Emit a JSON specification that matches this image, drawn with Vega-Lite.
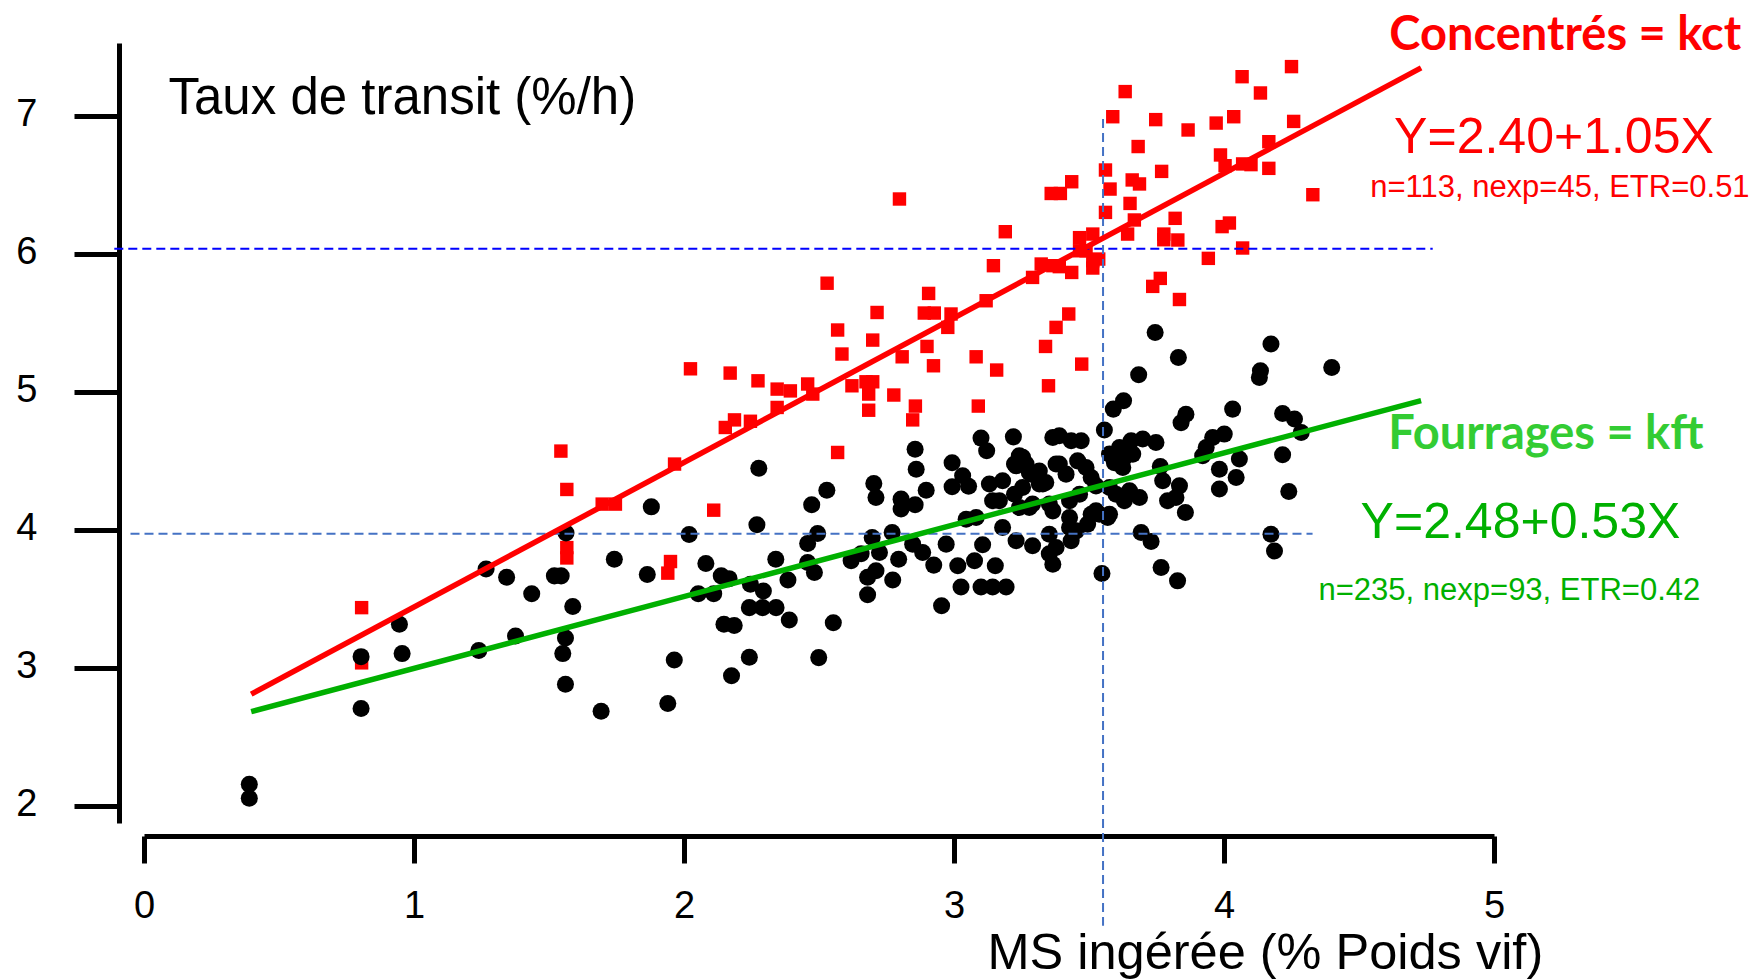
{
  "$schema": "https://vega.github.io/schema/vega-lite/v6.json",
  "width": 1350,
  "height": 780,
  "autosize": {"type": "none"},
  "padding": {"left": 144, "top": 43, "right": 264, "bottom": 157},
  "background": "white",
  "config": {
    "view": {"stroke": null},
    "axis": {
      "grid": false,
      "domainColor": "black",
      "domainWidth": 5,
      "tickColor": "black",
      "tickWidth": 5,
      "labelColor": "black",
      "labelFont": "Liberation Sans",
      "labelFontSize": 38,
      "labelFlush": false,
      "labelOverlap": false,
      "titleColor": "black",
      "titleFont": "Liberation Sans",
      "titleFontWeight": "normal"
    }
  },
  "datasets": {
    "kct": [
      {"ms": 0.806, "taux": 3.44}, {"ms": 0.806, "taux": 3.04}, {"ms": 1.544, "taux": 4.574}, {"ms": 1.566, "taux": 4.296},
      {"ms": 1.566, "taux": 3.875}, {"ms": 1.566, "taux": 3.8}, {"ms": 1.697, "taux": 4.19}, {"ms": 1.746, "taux": 4.19},
      {"ms": 1.95, "taux": 3.774}, {"ms": 1.94, "taux": 3.69}, {"ms": 2.11, "taux": 4.146}, {"ms": 1.965, "taux": 4.48},
      {"ms": 2.024, "taux": 5.17}, {"ms": 2.171, "taux": 5.139}, {"ms": 2.274, "taux": 5.083}, {"ms": 2.153, "taux": 4.745},
      {"ms": 2.187, "taux": 4.8}, {"ms": 2.246, "taux": 4.79}, {"ms": 2.345, "taux": 5.023}, {"ms": 2.394, "taux": 5.01},
      {"ms": 2.345, "taux": 4.89}, {"ms": 2.458, "taux": 5.06}, {"ms": 2.477, "taux": 4.987}, {"ms": 2.53, "taux": 5.79},
      {"ms": 2.569, "taux": 5.451}, {"ms": 2.585, "taux": 5.277}, {"ms": 2.569, "taux": 4.564}, {"ms": 2.622, "taux": 5.047},
      {"ms": 2.674, "taux": 5.076}, {"ms": 2.699, "taux": 5.076}, {"ms": 2.684, "taux": 4.987}, {"ms": 2.684, "taux": 4.87},
      {"ms": 2.699, "taux": 5.378}, {"ms": 2.715, "taux": 5.578}, {"ms": 2.777, "taux": 4.98}, {"ms": 2.798, "taux": 6.4},
      {"ms": 2.808, "taux": 5.257}, {"ms": 2.847, "taux": 4.8}, {"ms": 2.857, "taux": 4.9}, {"ms": 2.9, "taux": 5.332},
      {"ms": 2.906, "taux": 5.716}, {"ms": 2.89, "taux": 5.574}, {"ms": 2.927, "taux": 5.574}, {"ms": 2.924, "taux": 5.192},
      {"ms": 2.977, "taux": 5.47}, {"ms": 2.989, "taux": 5.567}, {"ms": 3.082, "taux": 5.257}, {"ms": 3.09, "taux": 4.9},
      {"ms": 3.119, "taux": 5.663}, {"ms": 3.158, "taux": 5.161}, {"ms": 3.146, "taux": 5.917}, {"ms": 3.19, "taux": 6.163},
      {"ms": 3.291, "taux": 5.832}, {"ms": 3.323, "taux": 5.929}, {"ms": 3.366, "taux": 5.917}, {"ms": 3.339, "taux": 5.332},
      {"ms": 3.35, "taux": 5.047}, {"ms": 3.36, "taux": 6.44}, {"ms": 3.378, "taux": 5.47}, {"ms": 3.394, "taux": 6.44},
      {"ms": 3.436, "taux": 6.525}, {"ms": 3.39, "taux": 5.91}, {"ms": 3.436, "taux": 5.868}, {"ms": 3.465, "taux": 6.12},
      {"ms": 3.514, "taux": 6.146}, {"ms": 3.465, "taux": 6.025}, {"ms": 3.489, "taux": 6.025}, {"ms": 3.514, "taux": 5.953},
      {"ms": 3.514, "taux": 5.9}, {"ms": 3.536, "taux": 5.965}, {"ms": 3.425, "taux": 5.567}, {"ms": 3.473, "taux": 5.204},
      {"ms": 3.588, "taux": 6.996}, {"ms": 3.634, "taux": 7.178}, {"ms": 3.561, "taux": 6.61}, {"ms": 3.578, "taux": 6.472},
      {"ms": 3.561, "taux": 6.303}, {"ms": 3.643, "taux": 6.146}, {"ms": 3.652, "taux": 6.368}, {"ms": 3.66, "taux": 6.538},
      {"ms": 3.687, "taux": 6.509}, {"ms": 3.668, "taux": 6.248}, {"ms": 3.682, "taux": 6.78}, {"ms": 3.747, "taux": 6.975},
      {"ms": 3.769, "taux": 6.6}, {"ms": 3.819, "taux": 6.26}, {"ms": 3.777, "taux": 6.146}, {"ms": 3.777, "taux": 6.105},
      {"ms": 3.829, "taux": 6.103}, {"ms": 3.867, "taux": 6.9}, {"ms": 3.942, "taux": 5.97}, {"ms": 3.971, "taux": 6.95},
      {"ms": 4.036, "taux": 6.996}, {"ms": 3.987, "taux": 6.719}, {"ms": 4.004, "taux": 6.641}, {"ms": 3.993, "taux": 6.2},
      {"ms": 4.02, "taux": 6.226}, {"ms": 4.067, "taux": 7.286}, {"ms": 4.135, "taux": 7.168}, {"ms": 4.069, "taux": 6.654},
      {"ms": 4.1, "taux": 6.649}, {"ms": 4.166, "taux": 6.815}, {"ms": 4.166, "taux": 6.622}, {"ms": 4.069, "taux": 6.045},
      {"ms": 4.25, "taux": 7.359}, {"ms": 4.258, "taux": 6.962}, {"ms": 4.329, "taux": 6.431}, {"ms": 3.736, "taux": 5.767},
      {"ms": 3.764, "taux": 5.825}, {"ms": 3.835, "taux": 5.672}
    ],
    "kft": [
      {"ms": 0.39, "taux": 2.16}, {"ms": 0.39, "taux": 2.06}, {"ms": 0.804, "taux": 3.085}, {"ms": 0.804, "taux": 2.71},
      {"ms": 0.946, "taux": 3.32}, {"ms": 0.956, "taux": 3.107}, {"ms": 1.24, "taux": 3.13}, {"ms": 1.267, "taux": 3.72},
      {"ms": 1.343, "taux": 3.66}, {"ms": 1.376, "taux": 3.235}, {"ms": 1.436, "taux": 3.54}, {"ms": 1.52, "taux": 3.67},
      {"ms": 1.545, "taux": 3.67}, {"ms": 1.563, "taux": 3.98}, {"ms": 1.588, "taux": 3.448}, {"ms": 1.561, "taux": 3.22},
      {"ms": 1.551, "taux": 3.107}, {"ms": 1.561, "taux": 2.885}, {"ms": 1.693, "taux": 2.69}, {"ms": 1.742, "taux": 3.79},
      {"ms": 1.879, "taux": 4.17}, {"ms": 1.864, "taux": 3.68}, {"ms": 2.019, "taux": 3.97}, {"ms": 1.964, "taux": 3.06},
      {"ms": 1.94, "taux": 2.745}, {"ms": 2.081, "taux": 3.76}, {"ms": 2.053, "taux": 3.54}, {"ms": 2.11, "taux": 3.54},
      {"ms": 2.138, "taux": 3.67}, {"ms": 2.167, "taux": 3.65}, {"ms": 2.148, "taux": 3.32}, {"ms": 2.186, "taux": 3.31},
      {"ms": 2.176, "taux": 2.946}, {"ms": 2.242, "taux": 3.08}, {"ms": 2.246, "taux": 3.61}, {"ms": 2.294, "taux": 3.56},
      {"ms": 2.242, "taux": 3.44}, {"ms": 2.291, "taux": 3.44}, {"ms": 2.341, "taux": 3.44}, {"ms": 2.39, "taux": 3.35},
      {"ms": 2.27, "taux": 4.04}, {"ms": 2.34, "taux": 3.79}, {"ms": 2.385, "taux": 3.64}, {"ms": 2.277, "taux": 4.45},
      {"ms": 2.473, "taux": 4.185}, {"ms": 2.529, "taux": 4.29}, {"ms": 2.495, "taux": 3.977}, {"ms": 2.458, "taux": 3.905},
      {"ms": 2.458, "taux": 3.767}, {"ms": 2.483, "taux": 3.694}, {"ms": 2.553, "taux": 3.33}, {"ms": 2.499, "taux": 3.078},
      {"ms": 2.703, "taux": 4.339}, {"ms": 2.711, "taux": 4.238}, {"ms": 2.856, "taux": 4.588}, {"ms": 2.86, "taux": 4.443},
      {"ms": 2.897, "taux": 4.29}, {"ms": 2.804, "taux": 4.226}, {"ms": 2.804, "taux": 4.154}, {"ms": 2.856, "taux": 4.185},
      {"ms": 2.697, "taux": 3.948}, {"ms": 2.771, "taux": 3.984}, {"ms": 2.656, "taux": 3.83}, {"ms": 2.724, "taux": 3.84},
      {"ms": 2.619, "taux": 3.78}, {"ms": 2.711, "taux": 3.707}, {"ms": 2.68, "taux": 3.66}, {"ms": 2.68, "taux": 3.533},
      {"ms": 2.773, "taux": 3.64}, {"ms": 2.795, "taux": 3.79}, {"ms": 2.847, "taux": 3.9}, {"ms": 2.884, "taux": 3.84},
      {"ms": 2.925, "taux": 3.748}, {"ms": 2.954, "taux": 3.453}, {"ms": 2.971, "taux": 3.9}, {"ms": 3.014, "taux": 3.743},
      {"ms": 2.993, "taux": 4.49}, {"ms": 2.993, "taux": 4.315}, {"ms": 3.054, "taux": 4.32}, {"ms": 3.032, "taux": 4.395},
      {"ms": 3.1, "taux": 4.668}, {"ms": 3.121, "taux": 4.576}, {"ms": 3.22, "taux": 4.677}, {"ms": 3.045, "taux": 4.08},
      {"ms": 3.082, "taux": 4.093}, {"ms": 3.106, "taux": 3.895}, {"ms": 3.076, "taux": 3.78}, {"ms": 3.153, "taux": 3.743},
      {"ms": 3.026, "taux": 3.59}, {"ms": 3.1, "taux": 3.59}, {"ms": 3.143, "taux": 3.59}, {"ms": 3.193, "taux": 3.59},
      {"ms": 3.131, "taux": 4.335}, {"ms": 3.18, "taux": 4.359}, {"ms": 3.143, "taux": 4.214}, {"ms": 3.23, "taux": 4.467},
      {"ms": 3.254, "taux": 4.53}, {"ms": 3.242, "taux": 4.165}, {"ms": 3.279, "taux": 4.165}, {"ms": 3.23, "taux": 3.924},
      {"ms": 3.291, "taux": 3.888}, {"ms": 3.18, "taux": 4.02}, {"ms": 3.279, "taux": 4.419}, {"ms": 3.329, "taux": 4.335},
      {"ms": 3.366, "taux": 4.672}, {"ms": 3.378, "taux": 4.48}, {"ms": 3.366, "taux": 4.141}, {"ms": 3.353, "taux": 3.972},
      {"ms": 3.366, "taux": 3.755}, {"ms": 3.378, "taux": 3.875}, {"ms": 3.745, "taux": 5.433}, {"ms": 3.831, "taux": 5.252},
      {"ms": 3.684, "taux": 5.127}, {"ms": 4.174, "taux": 5.349}, {"ms": 4.135, "taux": 5.156}, {"ms": 4.131, "taux": 5.107},
      {"ms": 4.399, "taux": 5.18}, {"ms": 3.628, "taux": 4.938}, {"ms": 3.59, "taux": 4.878}, {"ms": 3.557, "taux": 4.726},
      {"ms": 3.859, "taux": 4.841}, {"ms": 3.841, "taux": 4.78}, {"ms": 4.032, "taux": 4.878}, {"ms": 4.217, "taux": 4.846},
      {"ms": 4.261, "taux": 4.806}, {"ms": 4.286, "taux": 4.709}, {"ms": 4.001, "taux": 4.697}, {"ms": 3.958, "taux": 4.673},
      {"ms": 3.934, "taux": 4.6}, {"ms": 3.921, "taux": 4.54}, {"ms": 4.217, "taux": 4.547}, {"ms": 4.24, "taux": 4.281},
      {"ms": 4.057, "taux": 4.516}, {"ms": 3.983, "taux": 4.443}, {"ms": 4.045, "taux": 4.383}, {"ms": 3.983, "taux": 4.299},
      {"ms": 3.764, "taux": 4.462}, {"ms": 3.773, "taux": 4.359}, {"ms": 3.835, "taux": 4.322}, {"ms": 3.791, "taux": 4.214},
      {"ms": 3.822, "taux": 4.238}, {"ms": 3.857, "taux": 4.129}, {"ms": 3.693, "taux": 3.984}, {"ms": 3.73, "taux": 3.919},
      {"ms": 4.174, "taux": 3.972}, {"ms": 4.187, "taux": 3.851}, {"ms": 3.767, "taux": 3.73}, {"ms": 3.828, "taux": 3.634},
      {"ms": 3.548, "taux": 3.687}, {"ms": 3.353, "taux": 3.83}, {"ms": 3.434, "taux": 3.924}, {"ms": 3.428, "taux": 4.02},
      {"ms": 3.495, "taux": 4.045}, {"ms": 3.569, "taux": 4.093}, {"ms": 3.508, "taux": 4.117}, {"ms": 3.39, "taux": 4.685},
      {"ms": 3.434, "taux": 4.649}, {"ms": 3.471, "taux": 4.649}, {"ms": 3.242, "taux": 4.54}, {"ms": 3.267, "taux": 4.48},
      {"ms": 3.224, "taux": 4.48}, {"ms": 3.286, "taux": 4.407}, {"ms": 3.39, "taux": 4.48}, {"ms": 3.415, "taux": 4.407},
      {"ms": 3.458, "taux": 4.503}, {"ms": 3.489, "taux": 4.455}, {"ms": 3.508, "taux": 4.383}, {"ms": 3.526, "taux": 4.322},
      {"ms": 3.224, "taux": 4.262}, {"ms": 3.168, "taux": 4.214}, {"ms": 3.254, "taux": 4.31}, {"ms": 3.316, "taux": 4.335},
      {"ms": 3.34, "taux": 4.346}, {"ms": 3.291, "taux": 4.19}, {"ms": 3.353, "taux": 4.19}, {"ms": 3.428, "taux": 4.214},
      {"ms": 3.465, "taux": 4.262}, {"ms": 3.428, "taux": 4.093}, {"ms": 3.453, "taux": 3.996}, {"ms": 3.526, "taux": 4.141},
      {"ms": 3.576, "taux": 4.552}, {"ms": 3.613, "taux": 4.6}, {"ms": 3.656, "taux": 4.649}, {"ms": 3.699, "taux": 4.661},
      {"ms": 3.748, "taux": 4.636}, {"ms": 3.594, "taux": 4.49}, {"ms": 3.631, "taux": 4.527}, {"ms": 3.662, "taux": 4.552},
      {"ms": 3.625, "taux": 4.455}, {"ms": 3.576, "taux": 4.31}, {"ms": 3.6, "taux": 4.262}, {"ms": 3.65, "taux": 4.286},
      {"ms": 3.687, "taux": 4.238}, {"ms": 3.631, "taux": 4.214}, {"ms": 3.576, "taux": 4.117}, {"ms": 3.538, "taux": 4.117},
      {"ms": 3.316, "taux": 4.43}
    ],
    "droites": [
      {"groupe": "kct", "ms": 0.397, "taux": 2.813},
      {"groupe": "kct", "ms": 4.73, "taux": 7.35},
      {"groupe": "kft", "ms": 0.397, "taux": 2.687},
      {"groupe": "kft", "ms": 4.73, "taux": 4.94}
    ],
    "reperes_h": [
      {"groupe": "kct", "debut": -0.11, "fin": 4.773, "taux": 6.04},
      {"groupe": "kft", "debut": -0.05, "fin": 4.328, "taux": 3.975}
    ],
    "repere_v": [
      {"ms": 3.552, "haut": 6.98, "bas": 1.135}
    ],
    "textes": [
      {"groupe": "kct", "role": "titre", "texte": "Concentrés = kct", "ms": 5.264, "taux": 7.482},
      {"groupe": "kct", "role": "equation", "texte": "Y=2.40+1.05X", "ms": 5.222, "taux": 6.736},
      {"groupe": "kct", "role": "stats", "texte": "n=113, nexp=45, ETR=0.51", "ms": 5.244, "taux": 6.417},
      {"groupe": "kft", "role": "titre", "texte": "Fourrages = kft", "ms": 5.192, "taux": 4.591},
      {"groupe": "kft", "role": "equation", "texte": "Y=2.48+0.53X", "ms": 5.098, "taux": 3.946},
      {"groupe": "kft", "role": "stats", "texte": "n=235, nexp=93, ETR=0.42", "ms": 5.057, "taux": 3.496}
    ]
  },
  "encoding": {
    "x": {
      "field": "ms",
      "type": "quantitative",
      "scale": {"domain": [0, 5], "nice": false, "zero": false},
      "axis": {
        "values": [0, 1, 2, 3, 4, 5],
        "offset": 13,
        "tickSize": 27,
        "labelPadding": 24,
        "title": "MS ingérée (% Poids vif)",
        "titleFontSize": 50.5,
        "titleX": 843,
        "titleY": 132,
        "titleAlign": "left",
        "titleBaseline": "alphabetic"
      }
    },
    "y": {
      "field": "taux",
      "type": "quantitative",
      "scale": {"domain": [1.88, 7.53], "nice": false, "zero": false},
      "axis": {
        "values": [2, 3, 4, 5, 6, 7],
        "offset": 25,
        "tickSize": 45,
        "labelPadding": 37,
        "labelOffset": -2,
        "title": "Taux de transit (%/h)",
        "titleFontSize": 51,
        "titleAngle": 0,
        "titleX": 49,
        "titleY": 70,
        "titleAlign": "left",
        "titleBaseline": "alphabetic"
      }
    }
  },
  "layer": [
    {
      "data": {"name": "kct"},
      "mark": {"type": "point", "shape": "square", "filled": true, "color": "#FF0000", "opacity": 1, "size": 180}
    },
    {
      "data": {"name": "kft"},
      "mark": {"type": "point", "shape": "circle", "filled": true, "color": "#000000", "opacity": 1, "size": 290}
    },
    {
      "data": {"name": "reperes_h"},
      "mark": {"type": "rule", "strokeWidth": 2, "strokeDash": [9, 5]},
      "encoding": {
        "x": {"field": "debut", "type": "quantitative"},
        "x2": {"field": "fin"},
        "color": {"field": "groupe", "type": "nominal", "scale": {"domain": ["kct", "kft"], "range": ["#0000FF", "#4472C4"]}, "legend": null}
      }
    },
    {
      "data": {"name": "repere_v"},
      "mark": {"type": "rule", "strokeWidth": 2, "strokeDash": [9, 5], "color": "#4472C4"},
      "encoding": {
        "y": {"field": "haut", "type": "quantitative"},
        "y2": {"field": "bas"}
      }
    },
    {
      "data": {"name": "droites"},
      "mark": {"type": "line", "strokeWidth": 5.5, "strokeCap": "butt"},
      "encoding": {
        "color": {"field": "groupe", "type": "nominal", "scale": {"domain": ["kct", "kft"], "range": ["#FF0000", "#00B000"]}, "legend": null}
      }
    },
    {
      "data": {"name": "textes"},
      "transform": [{"filter": "datum.role == 'titre'"}],
      "mark": {"type": "text", "font": "Lato", "fontWeight": "bold", "fontSize": 47, "align": "center", "baseline": "alphabetic"},
      "encoding": {
        "text": {"field": "texte"},
        "fill": {"field": "groupe", "type": "nominal", "scale": {"domain": ["kct", "kft"], "range": ["#FF0000", "#33CC33"]}, "legend": null}
      }
    },
    {
      "data": {"name": "textes"},
      "transform": [{"filter": "datum.role == 'equation'"}],
      "mark": {"type": "text", "font": "Liberation Sans", "fontSize": 50, "align": "center", "baseline": "alphabetic"},
      "encoding": {
        "text": {"field": "texte"},
        "fill": {"field": "groupe", "type": "nominal", "scale": {"domain": ["kct", "kft"], "range": ["#FF0000", "#00B000"]}, "legend": null}
      }
    },
    {
      "data": {"name": "textes"},
      "transform": [{"filter": "datum.role == 'stats'"}],
      "mark": {"type": "text", "font": "Liberation Sans", "fontSize": 31, "align": "center", "baseline": "alphabetic"},
      "encoding": {
        "text": {"field": "texte"},
        "fill": {"field": "groupe", "type": "nominal", "scale": {"domain": ["kct", "kft"], "range": ["#FF0000", "#00B000"]}, "legend": null}
      }
    }
  ],
  "resolve": {"scale": {"fill": "independent", "color": "independent"}}
}
